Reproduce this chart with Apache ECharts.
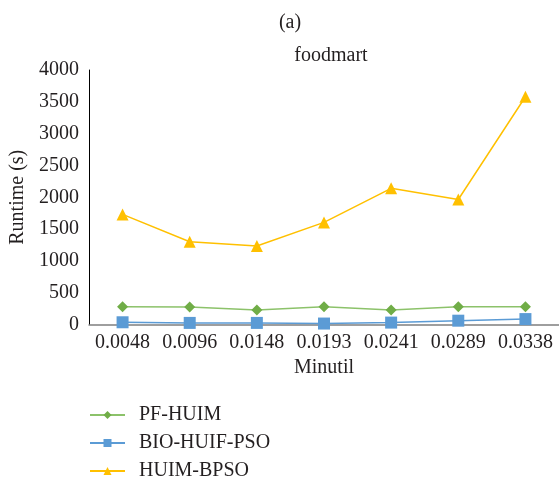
<!DOCTYPE html>
<html>
<head>
<meta charset="utf-8">
<script src="https://cdn.jsdelivr.net/npm/echarts@6/dist/echarts.min.js"></script>
<style>
  html, body { margin: 0; padding: 0; background: #fff; }
  #chart { width: 559px; height: 484px; }
</style>
</head>
<body>
<div id="chart"></div>
<script>
// Runtime (s) of three algorithms on foodmart for each minimum utility threshold
const minutil = ['0.0048', '0.0096', '0.0148', '0.0193', '0.0241', '0.0289', '0.0338'];
const pfHuim = [280, 275, 228, 280, 228, 278, 278];
const bioHuifPso = [35, 25, 25, 15, 30, 60, 85];
const huimBpso = [1730, 1300, 1235, 1605, 2140, 1965, 3580];
const yTicks = { min: 0, max: 4000, interval: 500 };

const serif = 'Liberation Serif';
const ink = '#231f20';

const chart = echarts.init(document.getElementById('chart'), null, { renderer: 'canvas' });

function lineSeries(name, data, lineColor, markColor, symbol, size) {
  return {
    name: name,
    type: 'line',
    data: data,
    symbol: symbol,
    symbolSize: size,
    showAllSymbol: true,
    animation: false,
    lineStyle: { color: lineColor, width: 1.5 },
    itemStyle: { color: markColor },
    emphasis: { disabled: true }
  };
}

chart.setOption({
  backgroundColor: '#fff',
  animation: false,
  textStyle: { fontFamily: serif, color: ink },
  title: [
    { text: '(a)', left: 285, top: 8, textAlign: 'center',
      textStyle: { fontFamily: serif, fontSize: 20, fontWeight: 'normal', color: ink } },
    { text: 'foodmart', left: 326, top: 41, textAlign: 'center',
      textStyle: { fontFamily: serif, fontSize: 20, fontWeight: 'normal', color: ink } }
  ],
  grid: { left: 89, top: 70, width: 475, bottom: 159.5, containLabel: false },
  xAxis: {
    type: 'category',
    data: minutil,
    boundaryGap: true,
    name: 'Minutil',
    nameLocation: 'middle',
    nameGap: 30,
    nameTextStyle: { fontFamily: serif, fontSize: 20, color: ink },
    axisLine: { lineStyle: { color: '#7f7f7f', width: 1.5 } },
    axisTick: { show: false },
    axisLabel: { fontFamily: serif, fontSize: 20, color: ink, margin: 8, interval: 0 },
    splitLine: { show: false }
  },
  yAxis: {
    type: 'value',
    min: yTicks.min,
    max: yTicks.max,
    interval: yTicks.interval,
    name: 'Runtime (s)',
    nameLocation: 'middle',
    nameGap: 60,
    nameTextStyle: { fontFamily: serif, fontSize: 20, color: ink },
    axisLine: { show: true, lineStyle: { color: '#000', width: 1 } },
    axisTick: { show: false },
    axisLabel: { fontFamily: serif, fontSize: 20, color: ink, margin: 10,
      formatter: function (v) { return String(v); } },
    splitLine: { show: false }
  },
  legend: {
    orient: 'vertical',
    left: 89,
    top: 405,
    padding: 0,
    itemWidth: 35,
    itemHeight: 10,
    itemGap: 8,
    textStyle: { fontFamily: serif, fontSize: 20, lineHeight: 20, color: ink, padding: [0, 0, 0, 9] },
    data: ['PF-HUIM', 'BIO-HUIF-PSO', 'HUIM-BPSO']
  },
  series: [
    lineSeries('PF-HUIM', pfHuim, '#8cc26a', '#70ad47', 'diamond', [11, 11]),
    lineSeries('BIO-HUIF-PSO', bioHuifPso, '#5b9bd5', '#5b9bd5', 'rect', 12),
    lineSeries('HUIM-BPSO', huimBpso, '#ffc000', '#ffc000', 'triangle', 12)
  ]
});
</script>
</body>
</html>
